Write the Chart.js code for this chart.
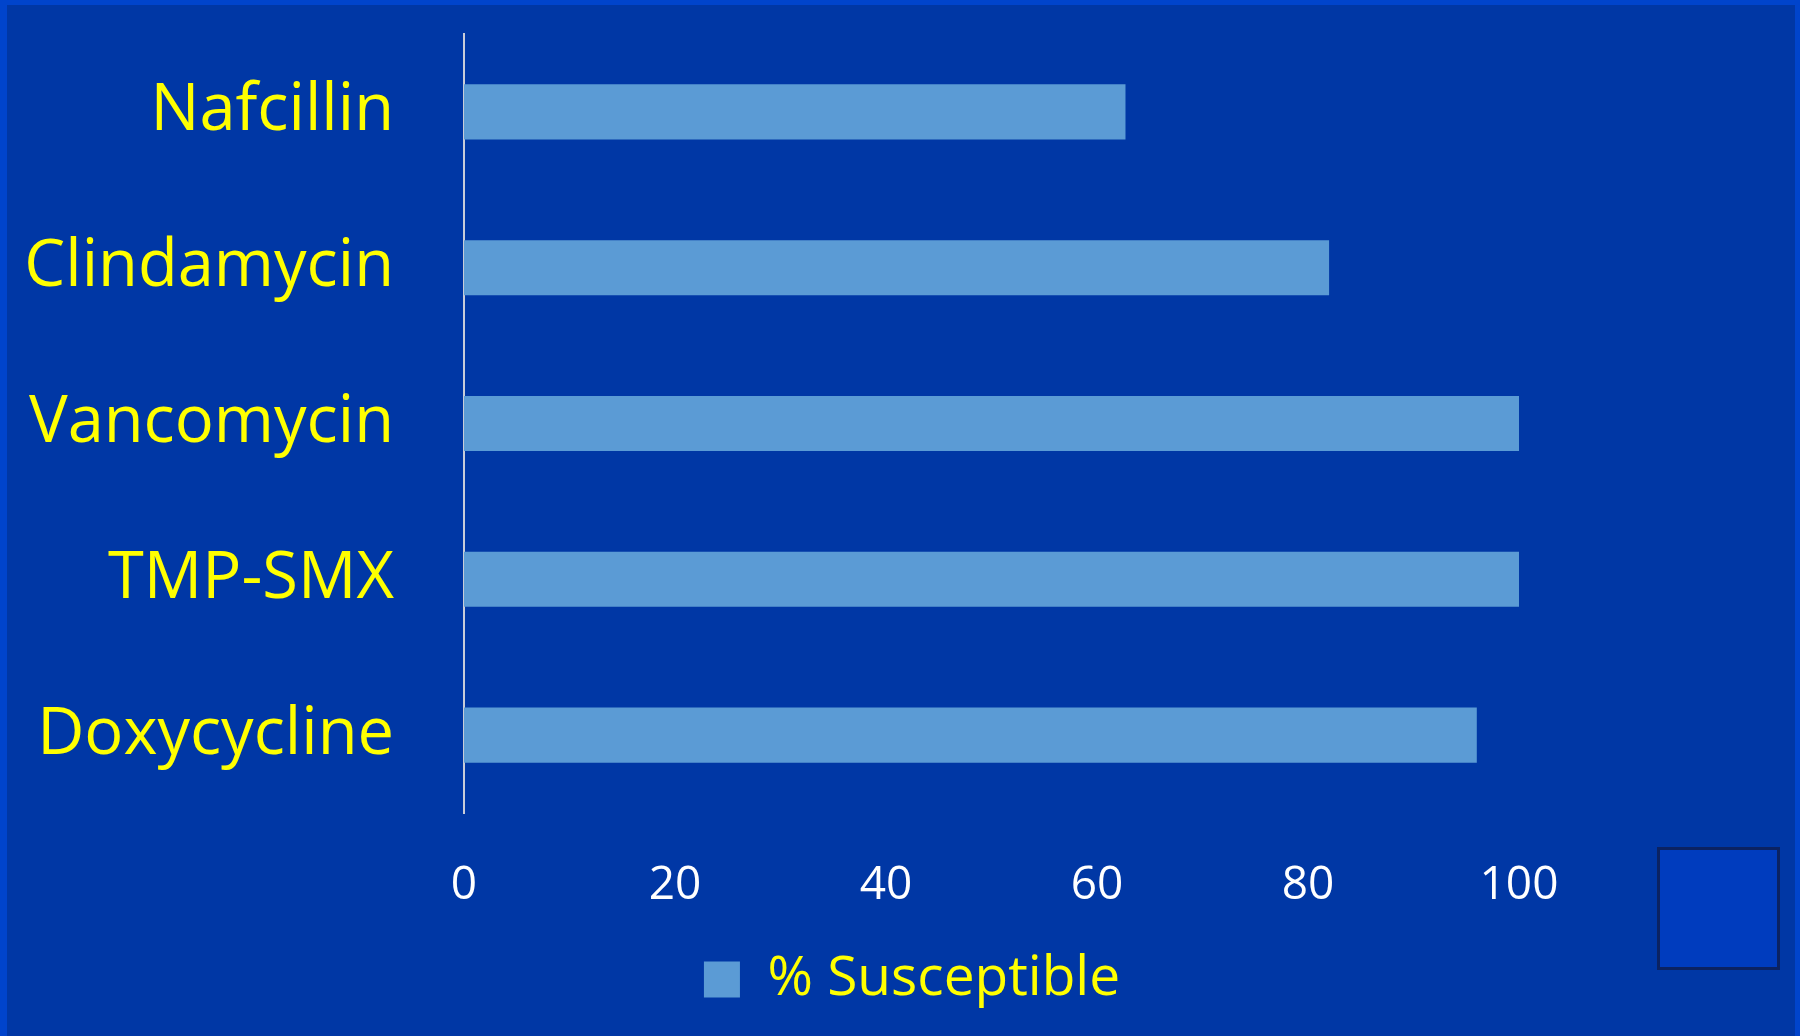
<!DOCTYPE html>
<html>
<head>
<meta charset="utf-8">
<script src="https://cdn.jsdelivr.net/npm/chart.js@4"></script>
<style>
  html, body { margin: 0; padding: 0; background: #0044cc; }
  #wrap { position: relative; width: 1800px; height: 1036px; }
  #corner { position: absolute; left: 1657px; top: 847px; width: 117px; height: 117px;
            background: #003cbe; border: 3px solid #0b2262; }
</style>
</head>
<body>
<div id="wrap">
  <canvas id="chartcontainer" width="1800" height="1036"></canvas>
  <div id="corner"></div>
</div>
<script>
var drugs = ["Nafcillin", "Clindamycin", "Vancomycin", "TMP-SMX", "Doxycycline"];
var susceptible = [62.7, 82, 100, 100, 96];
var seriesName = "% Susceptible";
var xTicks = [0, 20, 40, 60, 80, 100];

// fond bleu + liseré plus clair autour
var bgPlugin = {
  id: "bg",
  beforeDraw: function(chart) {
    var c = chart.ctx;
    c.save();
    c.fillStyle = "#0044cc";
    c.fillRect(0, 0, chart.width, chart.height);
    c.fillStyle = "#0037a5";
    c.fillRect(7, 5, chart.width - 12, chart.height - 5);
    c.restore();
  }
};

var ctx = document.getElementById("chartcontainer").getContext("2d");
var chart = new Chart(ctx, {
  type: "bar",
  data: {
    labels: drugs,
    datasets: [{
      label: seriesName,
      data: susceptible,
      backgroundColor: "#5b9bd5",
      borderWidth: 0,
      barPercentage: 0.7,
      categoryPercentage: 0.505
    }]
  },
  plugins: [bgPlugin],
  options: {
    responsive: false,
    animation: false,
    indexAxis: "y",
    layout: { padding: { left: 24, right: 0, top: 34, bottom: 19 } },
    plugins: {
      legend: {
        position: "bottom",
        labels: {
          color: "#ffff00",
          font: { family: "'Open Sans'", size: 55 },
          boxWidth: 36,
          boxHeight: 36,
          padding: 10
        }
      },
      tooltip: { enabled: false }
    },
    scales: {
      x: {
        min: 0,
        max: 100,
        grid: { display: false, drawTicks: false },
        border: { display: false },
        ticks: {
          stepSize: 20,
          color: "#ffffff",
          padding: 45,
          font: { family: "'Open Sans'", size: 46 },
          callback: function(v) { return xTicks.indexOf(v) >= 0 ? v : ""; }
        },
        afterFit: function(scale) {
          scale.height = 129;
          scale.paddingRight = 281; // place libre à droite du graphe
        }
      },
      y: {
        grid: { display: false, drawTicks: false },
        border: { display: true, color: "#c8ccd8", width: 2 },
        ticks: {
          color: "#ffff00",
          padding: 70,
          font: { family: "'Open Sans'", size: 65 }
        },
        afterFit: function(scale) {
          scale.width = 464 - 24;
          scale.paddingTop = 0;
          scale.paddingBottom = 0;
        }
      }
    }
  }
});
</script>
</body>
</html>
